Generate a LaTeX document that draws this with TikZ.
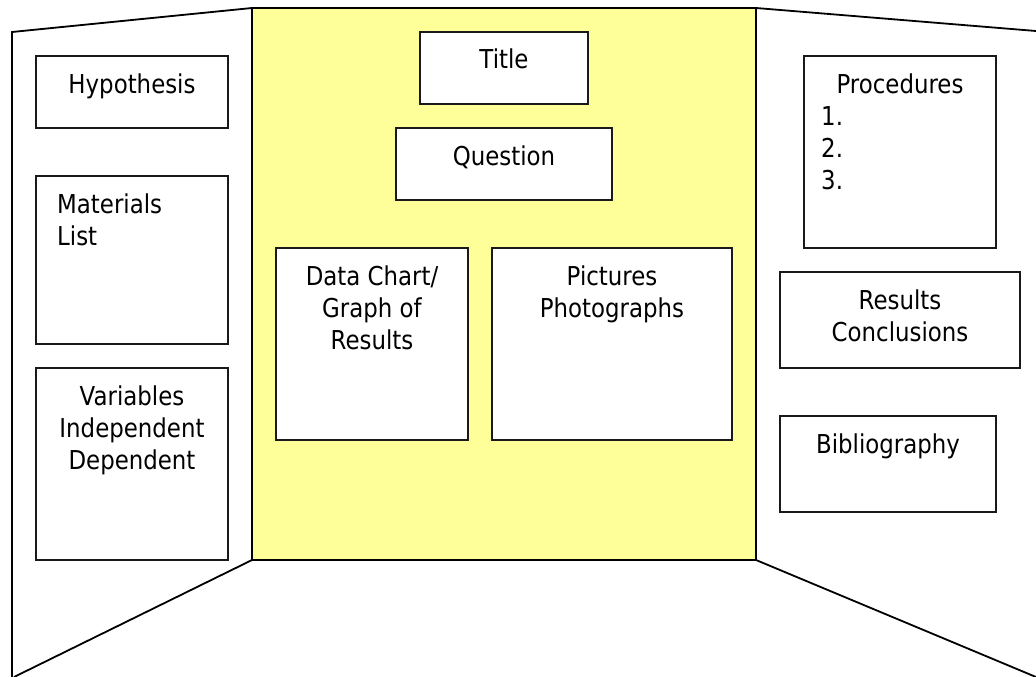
\documentclass[tikz,border=0pt]{standalone}
\usepackage{fontspec}
\setmainfont{DejaVu Sans}[FakeStretch=0.88]
\definecolor{boardyellow}{HTML}{FFFF99}
\definecolor{inkline}{HTML}{1A1A1A}
\tikzset{
  wing/.style={draw=black, line width=1.8pt, line join=miter},
  centrepanel/.style={draw=black, line width=1.8pt, fill=boardyellow,
    anchor=north west, inner sep=0pt, outer sep=0pt},
  card/.style={draw=inkline, line width=1.8pt, fill=white,
    anchor=north west, inner sep=0pt, outer sep=0pt},
  word/.style={anchor=base, inner sep=0pt, text=black,
    font=\fontsize{26}{32}\selectfont},
  wordleft/.style={word, anchor=base west},
}
\begin{document}
\begin{tikzpicture}[x=1pt,y=-1pt]
\useasboundingbox (0,0) rectangle (1036,677);

% centre panel of the tri-fold board
\node[centrepanel, minimum width=504pt, minimum height=552pt] (centre) at (252,8) {};

% folding wings
\coordinate (lefttop) at (12,32);
\coordinate (leftfoot) at (12,677);
\coordinate (leftbottom) at (14,677);
\coordinate (righttop) at (1036,31);
\coordinate (rightbottom) at (1036,677);
\draw[wing] (centre.north west) -- (lefttop) -- (leftfoot);
\draw[wing] (centre.south west) -- (leftbottom);
\draw[wing] (centre.north east) -- (righttop);
\draw[wing] (centre.south east) -- (rightbottom);

% left wing cards
\node[card, minimum width=192pt, minimum height=72pt]  (hyp) at (36,56) {};
\node[card, minimum width=192pt, minimum height=168pt] (mat) at (36,176) {};
\node[card, minimum width=192pt, minimum height=192pt] (var) at (36,368) {};

% centre cards
\node[card, minimum width=168pt, minimum height=72pt]  (title) at (420,32) {};
\node[card, minimum width=216pt, minimum height=72pt]  (question) at (396,128) {};
\node[card, minimum width=192pt, minimum height=192pt] (data) at (276,248) {};
\node[card, minimum width=240pt, minimum height=192pt] (pics) at (492,248) {};

% right wing cards
\node[card, minimum width=192pt, minimum height=192pt] (proc) at (804,56) {};
\node[card, minimum width=240pt, minimum height=96pt]  (res) at (780,272) {};
\node[card, minimum width=216pt, minimum height=96pt]  (bib) at (780,416) {};

% card texts
\node[word] (thyp) at (132,93) {Hypothesis};

\node[wordleft] (tmat1) at (57,213) {Materials};
\node[wordleft] (tmat2) at (57,245) {List};

\node[word] (tvar1) at (132,405) {Variables};
\node[word] (tvar2) at (132,437) {Independent};
\node[word] (tvar3) at (132,469) {Dependent};

\node[word] (ttitle) at (504,69) {Title};
\node[word] (tquestion) at (504,165) {Question};

\node[word] (tdata1) at (372,285) {Data Chart/};
\node[word] (tdata2) at (372,317) {Graph of};
\node[word] (tdata3) at (372,349) {Results};

\node[word] (tpics1) at (612,285) {Pictures};
\node[word] (tpics2) at (612,317) {Photographs};

\node[word] (tproc) at (900,93) {Procedures};
\node[wordleft] (tproc1) at (821,125) {1.};
\node[wordleft] (tproc2) at (821,157) {2.};
\node[wordleft] (tproc3) at (821,189) {3.};

\node[word] (tres1) at (900,309) {Results};
\node[word] (tres2) at (900,341) {Conclusions};

\node[word] (tbib) at (888,453) {Bibliography};
\end{tikzpicture}
\end{document}
